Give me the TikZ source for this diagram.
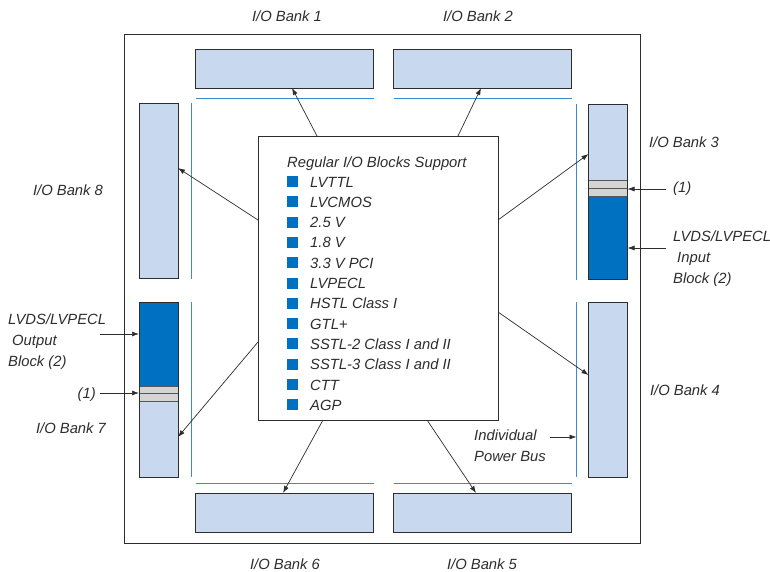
\documentclass[tikz,border=0pt]{standalone}
\usepackage{fontspec}
\setmainfont{Liberation Sans}
\usetikzlibrary{arrows.meta}

\definecolor{banklight}{RGB}{200,216,238}
\definecolor{bankdark}{RGB}{0,112,192}
\definecolor{stripgray}{RGB}{212,212,212}
\definecolor{busblue}{RGB}{60,140,205}
\definecolor{ink}{RGB}{45,45,45}

\begin{document}
\begin{tikzpicture}[x=1pt,y=-1pt,
    bank/.style ={draw=ink, line width=0.9pt, fill=banklight, inner sep=0pt, outer sep=0pt},
    hbank/.style={bank, minimum width=178pt, minimum height=39pt},
    vbank/.style={bank, minimum width=39pt, minimum height=175pt},
    bankline/.style={draw=ink, line width=0.9pt},
    strip/.style={draw=ink!80, line width=0.7pt, fill=stripgray},
    bus/.style={busblue, line width=0.8pt},
    regbox/.style={draw=ink, line width=0.9pt, inner sep=0pt, outer sep=0pt,
        minimum width=240pt, minimum height=284pt},
    sq/.style={fill=bankdark, inner sep=0pt, minimum size=11pt},
    lbl/.style={inner sep=0pt, text=ink, font=\fontsize{14.8}{21}\selectfont\itshape},
    arr/.style={draw=ink, line width=0.7pt, -{Latex[length=7pt,width=5pt]}}]
  \useasboundingbox (0,0) rectangle (770,572);
  % chip outline
  \draw[ink, line width=0.9pt] (124,34) rectangle (640,543);

  % I/O banks
  \node[hbank] (b1) at (284.5,68.5) {};
  \node[hbank] (b2) at (482.5,68.5) {};
  \node[hbank] (b6) at (284.5,512.5) {};
  \node[hbank] (b5) at (482.5,512.5) {};
  \node[vbank] (b8) at (158.5,191) {};
  \node[vbank] (b7) at (158.5,389.5) {};
  \node[vbank] (b3) at (608,192) {};
  \node[vbank] (b4) at (608,389.5) {};

  % LVDS blocks
  \fill[bankdark] (b7.north west) rectangle ([shift={(0,84)}]b7.north east);
  \draw[strip] ([shift={(0,84)}]b7.north west) rectangle ([shift={(0,91)}]b7.north east);
  \draw[strip] ([shift={(0,91)}]b7.north west) rectangle ([shift={(0,99)}]b7.north east);
  \draw[bankline] (b7.north west) rectangle (b7.south east);
  \fill[bankdark] (b3.south west) rectangle ([shift={(0,-83)}]b3.south east);
  \draw[strip] ([shift={(0,-83)}]b3.south west) rectangle ([shift={(0,-91)}]b3.south east);
  \draw[strip] ([shift={(0,-91)}]b3.south west) rectangle ([shift={(0,-99)}]b3.south east);
  \draw[bankline] (b3.north west) rectangle (b3.south east);

  % power buses
  \draw[bus] ([shift={(0,10)}]b1.south west) -- ([shift={(0,10)}]b1.south east);
  \draw[bus] ([shift={(0,10)}]b2.south west) -- ([shift={(0,10)}]b2.south east);
  \draw[bus] ([shift={(0,-10)}]b6.north west) -- ([shift={(0,-10)}]b6.north east);
  \draw[bus] ([shift={(0,-10)}]b5.north west) -- ([shift={(0,-10)}]b5.north east);
  \draw[bus] ([shift={(13,0)}]b8.north east) -- ([shift={(13,0)}]b8.south east);
  \draw[bus] ([shift={(13,0)}]b7.north east) -- ([shift={(13,0)}]b7.south east);
  \draw[bus] ([shift={(-12,0)}]b3.north west) -- ([shift={(-12,0)}]b3.south west);
  \draw[bus] ([shift={(-12,0)}]b4.north west) -- ([shift={(-12,0)}]b4.south west);
  \coordinate (bus4) at ([shift={(-12,0)}]b4.west);

  % regular I/O standards
  \node[regbox] (regs) at (378,278) {};
  \node[lbl, anchor=base west] (head) at (287,167.5) {Regular I/O Blocks Support};
  \foreach \t [count=\i] in {LVTTL, LVCMOS, 2.5 V, 1.8 V, 3.3 V PCI, LVPECL,
      HSTL Class I, GTL+, SSTL-2 Class I and II, SSTL-3 Class I and II, CTT, AGP} {
    \node[sq] (sq\i) at (292.5,{181.5+(\i-1)*20.3}) {};
    \node[lbl, anchor=base west] (it\i) at (310,{187+(\i-1)*20.3}) {\t};
  }

  \draw[arr] ([shift={(59,0)}]regs.north west) -- ([shift={(7.5,0)}]b1.south);
  \draw[arr] ([shift={(-40,0)}]regs.north east) -- ([shift={(-1.5,0)}]b2.south);
  \draw[arr] ([shift={(0,84)}]regs.north west) -- ([shift={(0,-23)}]b8.east);
  \draw[arr] ([shift={(0,84)}]regs.north east) -- ([shift={(0,-38)}]b3.west);
  \draw[arr] ([shift={(0,206)}]regs.north west) -- ([shift={(0,47.5)}]b7.east);
  \draw[arr] ([shift={(0,176)}]regs.north east) -- ([shift={(0,-14.5)}]b4.west);
  \draw[arr] ([shift={(65,0)}]regs.south west) -- ([shift={(-1.5,0)}]b6.north);
  \draw[arr] ([shift={(169,0)}]regs.south west) -- ([shift={(-6.5,0)}]b5.north);

  % bank labels
  \node[lbl, anchor=base] (t1) at (287,21.5) {I/O Bank 1};
  \node[lbl, anchor=base] (t2) at (478,21.5) {I/O Bank 2};
  \node[lbl, anchor=base] (t3) at (684,147.5) {I/O Bank 3};
  \node[lbl, anchor=base] (t4) at (685,395.5) {I/O Bank 4};
  \node[lbl, anchor=base] (t5) at (482,569.5) {I/O Bank 5};
  \node[lbl, anchor=base] (t6) at (285,569.5) {I/O Bank 6};
  \node[lbl, anchor=base] (t7) at (71,433.5) {I/O Bank 7};
  \node[lbl, anchor=base] (t8) at (68,195.5) {I/O Bank 8};

  % notes
  \node[lbl, anchor=base west] (n1r) at (673,192.5) {(1)};
  \coordinate (n1r-a) at (666,189);
  \draw[arr] (n1r-a) -- (n1r-a -| b3.east);
  \node[lbl, anchor=west, align=left] (lvdsin) at (673,259) {LVDS/LVPECL\\\hspace{4pt}Input\\Block (2)};
  \coordinate (lvdsin-a) at (666,248);
  \draw[arr] (lvdsin-a) -- (lvdsin-a -| b3.east);

  \node[lbl, anchor=west, align=left] (lvdsout) at (8,342) {LVDS/LVPECL\\\hspace{4pt}Output\\Block (2)};
  \coordinate (lvdsout-a) at (100,334);
  \draw[arr] (lvdsout-a) -- (lvdsout-a -| b7.west);
  \node[lbl, anchor=base east] (n1l) at (96,398.5) {(1)};
  \coordinate (n1l-a) at (100,393);
  \draw[arr] (n1l-a) -- (n1l-a -| b7.west);

  \node[lbl, anchor=west, align=left] (pwr) at (474,446) {Individual\\Power Bus};
  \coordinate (pwr-a) at (550,437);
  \draw[arr] (pwr-a) -- (pwr-a -| bus4);
\end{tikzpicture}
\end{document}
